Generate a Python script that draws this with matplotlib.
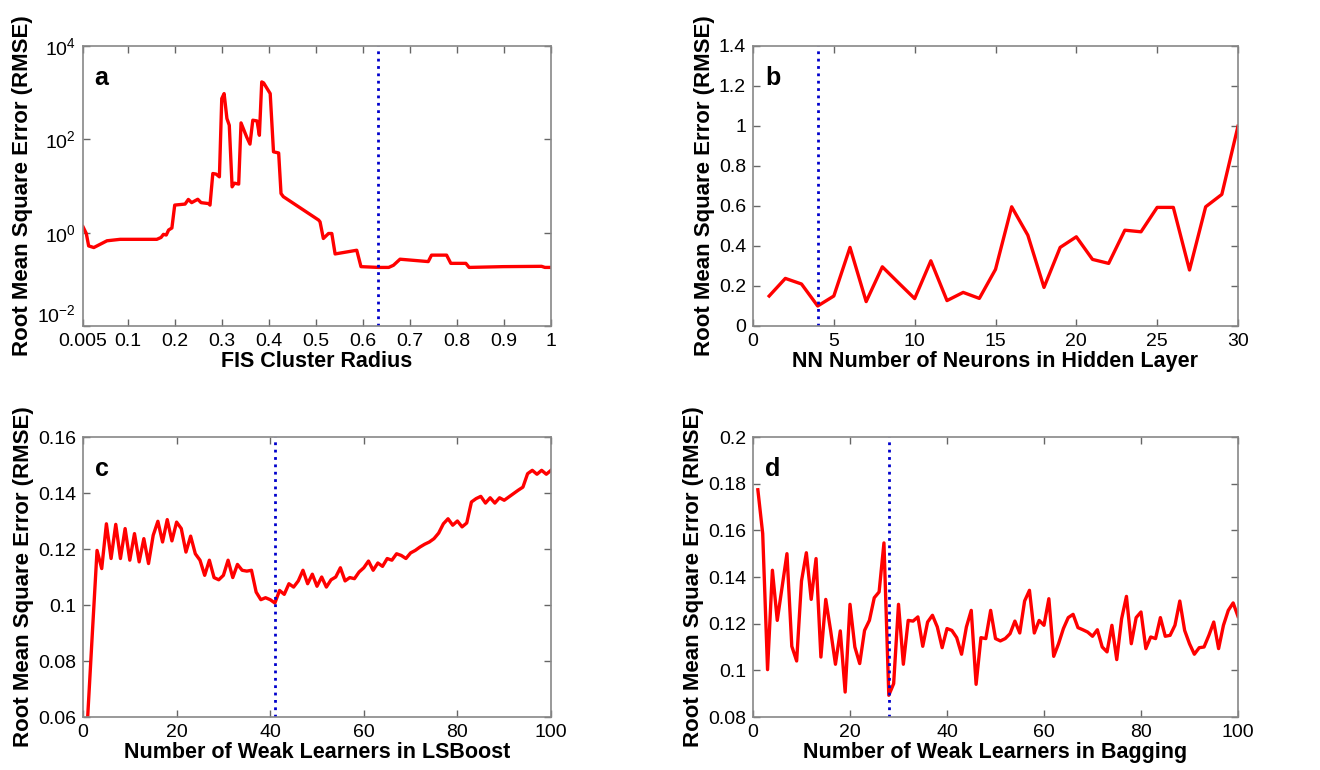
import numpy as np
import matplotlib
matplotlib.use('Agg')
import matplotlib.pyplot as plt
from matplotlib.ticker import FixedLocator, NullLocator, LogFormatterMathtext

plt.rcParams['font.family'] = ['Liberation Sans', 'DejaVu Sans']

# panel a: FIS cluster radius (log scale)
radius = [0.005, 0.012, 0.017, 0.028, 0.056, 0.084, 0.162, 0.171, 0.176, 0.182, 0.187, 0.194,
          0.200, 0.222, 0.229, 0.236, 0.249, 0.256, 0.272, 0.275, 0.281, 0.288, 0.295, 0.300,
          0.305, 0.311, 0.316, 0.322, 0.327, 0.336, 0.341, 0.353, 0.360, 0.366, 0.375, 0.380,
          0.385, 0.389, 0.403, 0.410, 0.421, 0.426, 0.431, 0.506, 0.509, 0.516, 0.527, 0.534,
          0.541, 0.587, 0.596, 0.633, 0.655, 0.665, 0.679, 0.739, 0.746, 0.778, 0.787, 0.819,
          0.826, 0.898, 0.980, 0.987, 1.0]
rmse_fis = [1.34, 0.96, 0.52, 0.48, 0.67, 0.72, 0.72, 0.79, 0.92, 0.89, 1.14, 1.26,
            3.9, 4.1, 5.15, 4.4, 5.2, 4.4, 4.2, 3.9, 18.5, 18.0, 15.7, 747,
            955, 279, 200, 9.6, 11.5, 11.0, 225, 112, 79, 257, 248, 122,
            1700, 1620, 955, 54, 51, 6.9, 5.9, 1.86, 1.7, 0.75, 0.96, 0.96,
            0.35, 0.42, 0.187, 0.18, 0.18, 0.20, 0.27, 0.24, 0.33, 0.33, 0.22, 0.22,
            0.18, 0.187, 0.19, 0.18, 0.18]
best_fis = 0.633

# panel b: NN neurons
neurons = list(range(1, 31))
rmse_nn = [0.150, 0.238, 0.210, 0.100, 0.150, 0.393, 0.122, 0.296, 0.216, 0.137,
           0.326, 0.127, 0.168, 0.138, 0.283, 0.596, 0.454, 0.193, 0.393, 0.446,
           0.333, 0.313, 0.479, 0.471, 0.593, 0.593, 0.280, 0.596, 0.658, 0.999]
best_nn = 4

# panel c: LSBoost
learners = list(range(1, 101))
rmse_lsb = [0.060, 0.090, 0.1195, 0.113, 0.129, 0.1166, 0.1288, 0.1166, 0.1273, 0.116,
            0.1255, 0.1154, 0.1237, 0.1148, 0.1249, 0.1299, 0.1225, 0.1305, 0.1229, 0.1296,
            0.1273, 0.1189, 0.1246, 0.1183, 0.116, 0.1106, 0.116, 0.1098, 0.109, 0.1106,
            0.116, 0.1098, 0.1145, 0.1124, 0.1121, 0.1124, 0.1046, 0.1019, 0.1026, 0.1019,
            0.1007, 0.1052, 0.1038, 0.1076, 0.1064, 0.1086, 0.1124, 0.1076, 0.111, 0.1067,
            0.110, 0.1064, 0.109, 0.110, 0.1133, 0.1086, 0.1098, 0.1094, 0.1118, 0.1133,
            0.1157, 0.1124, 0.115, 0.1138, 0.1166, 0.116, 0.1183, 0.1177, 0.1166, 0.1186,
            0.1195, 0.1207, 0.1217, 0.1225, 0.1237, 0.1257, 0.129, 0.1308, 0.1285, 0.130,
            0.1279, 0.1293, 0.1368, 0.138, 0.1388, 0.1364, 0.1383, 0.1364, 0.1383, 0.1374,
            0.1386, 0.1398, 0.141, 0.1421, 0.1469, 0.1481, 0.1467, 0.1481, 0.1467, 0.1481]
best_lsb = 41

# panel d: Bagging
rmse_bag = [0.1774, 0.1586, 0.1003, 0.1429, 0.1214, 0.1357, 0.150, 0.1103, 0.104, 0.1383,
            0.1504, 0.1304, 0.1479, 0.1057, 0.1304, 0.1171, 0.1026, 0.1169, 0.0907, 0.1283,
            0.110, 0.1029, 0.1171, 0.1214, 0.1311, 0.1336, 0.1546, 0.0893, 0.0943, 0.1283,
            0.1026, 0.1214, 0.1211, 0.1229, 0.1103, 0.1207, 0.1236, 0.1186, 0.1097, 0.1179,
            0.1171, 0.114, 0.1069, 0.1186, 0.1257, 0.094, 0.114, 0.1136, 0.1257, 0.1136,
            0.1126, 0.1136, 0.1157, 0.1211, 0.116, 0.1297, 0.1343, 0.116, 0.1214, 0.1193,
            0.1307, 0.106, 0.1114, 0.1179, 0.1226, 0.124, 0.1183, 0.1174, 0.1164, 0.1146,
            0.1174, 0.110, 0.1079, 0.1193, 0.1046, 0.1221, 0.1317, 0.1114, 0.1226, 0.125,
            0.1093, 0.1143, 0.1136, 0.1226, 0.1146, 0.115, 0.1193, 0.1297, 0.1171, 0.1114,
            0.1069, 0.1097, 0.110, 0.115, 0.1207, 0.1093, 0.1193, 0.1257, 0.1289, 0.1231]
best_bag = 28

ylab = 'Root Mean Square Error (RMSE)'

fig = plt.figure(figsize=(13.2, 7.7), dpi=100)
W, H = 1320, 770
boxes = [(83, 46), (753, 46), (83, 437), (753, 437)]
widths = [468, 485, 468, 485]
axs = []
for (x0, y0), w in zip(boxes, widths):
    ax = fig.add_axes([x0 / W, 1 - (y0 + 280) / H, w / W, 280 / H])
    axs.append(ax)


def style(ax, letter, xlabel):
    for s in ax.spines.values():
        s.set_color('#888888')
        s.set_linewidth(1.2)
    ax.tick_params(direction='in', top=True, right=True, labelsize=14,
                   color='#666666', length=5, width=1, pad=5)
    ax.set_xlabel(xlabel, fontsize=15.5, fontweight='bold', labelpad=1)
    ax.set_ylabel(ylab, fontsize=16, fontweight='bold', labelpad=3)
    ax.text(0.025, 0.93, letter, transform=ax.transAxes, fontsize=18,
            fontweight='bold', va='top', ha='left')


red = '#ff0000'
blue = '#0000cc'

ax = axs[0]
ax.plot(radius, rmse_fis, color=red, lw=2.4)
ax.set_yscale('log')
ax.set_ylim(1e-2, 1e4)
ax.set_xlim(0.005, 1)
ax.axvline(best_fis, color=blue, ls=':', lw=2)
ax.yaxis.set_major_locator(FixedLocator([1e-2, 1e0, 1e2, 1e4]))
ax.yaxis.set_major_formatter(LogFormatterMathtext())
ax.yaxis.set_minor_locator(NullLocator())
ax.set_xticks([0.005, 0.1, 0.2, 0.3, 0.4, 0.5, 0.6, 0.7, 0.8, 0.9, 1])
ax.set_xticklabels(['0.005', '0.1', '0.2', '0.3', '0.4', '0.5', '0.6', '0.7', '0.8', '0.9', '1'])
style(ax, 'a', 'FIS Cluster Radius')
# nudge the bottom log label up so it clears the first x label
ax.get_yticklabels()[0].set_verticalalignment('bottom')

ax = axs[1]
ax.plot(neurons, rmse_nn, color=red, lw=2.4)
ax.axvline(best_nn, color=blue, ls=':', lw=2)
ax.set_xlim(0, 30)
ax.set_ylim(0, 1.4)
ax.set_yticks([0, 0.2, 0.4, 0.6, 0.8, 1, 1.2, 1.4])
ax.set_yticklabels(['0', '0.2', '0.4', '0.6', '0.8', '1', '1.2', '1.4'])
style(ax, 'b', 'NN Number of Neurons in Hidden Layer')

ax = axs[2]
ax.plot(learners, rmse_lsb, color=red, lw=2.4)
ax.axvline(best_lsb, color=blue, ls=':', lw=2)
ax.set_xlim(0, 100)
ax.set_ylim(0.06, 0.16)
ax.set_yticks([0.06, 0.08, 0.1, 0.12, 0.14, 0.16])
ax.set_yticklabels(['0.06', '0.08', '0.1', '0.12', '0.14', '0.16'])
style(ax, 'c', 'Number of Weak Learners in LSBoost')

ax = axs[3]
ax.plot(learners, rmse_bag, color=red, lw=2.4)
ax.axvline(best_bag, color=blue, ls=':', lw=2)
ax.set_xlim(0, 100)
ax.set_ylim(0.08, 0.2)
ax.set_yticks([0.08, 0.1, 0.12, 0.14, 0.16, 0.18, 0.2])
ax.set_yticklabels(['0.08', '0.1', '0.12', '0.14', '0.16', '0.18', '0.2'])
style(ax, 'd', 'Number of Weak Learners in Bagging')

fig.savefig('out.png', dpi=100)
